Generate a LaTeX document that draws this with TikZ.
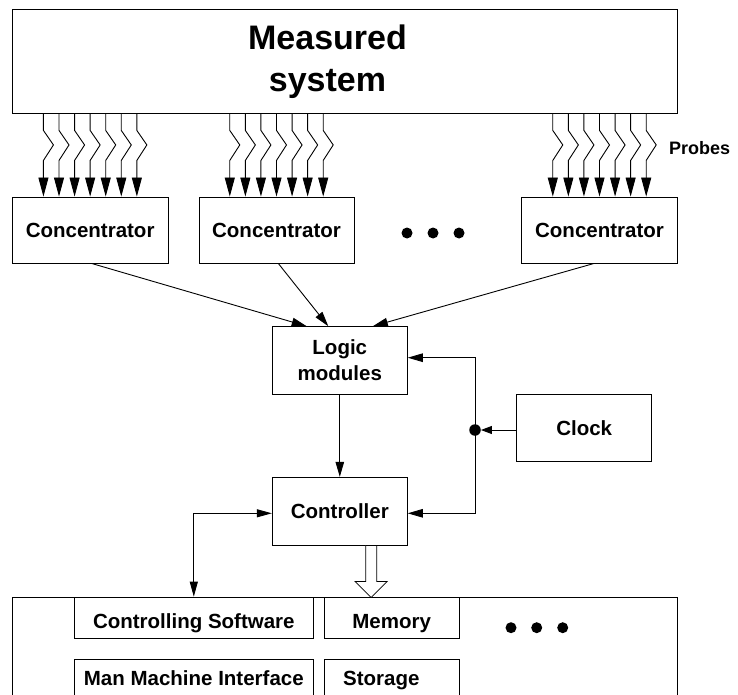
\documentclass[tikz,border=0pt]{standalone}
\usepackage{fontspec}
\setmainfont{Liberation Sans}
\usetikzlibrary{arrows.meta}
\tikzset{
  box/.style={draw, line width=0.9pt, inner sep=0pt, rectangle, font=\fontsize{20.5}{25.8}\selectfont\bfseries},
  arr/.style={line width=0.9pt, -{Triangle[length=15pt,width=8.5pt]}},
  dblarr/.style={line width=0.9pt, {Triangle[length=15pt,width=8pt]}-{Triangle[length=15pt,width=8pt]}},
  clockarr/.style={line width=0.9pt, -{Triangle[length=11pt,width=8pt]}},
  probe/.style={line width=0.9pt, -{Triangle[length=19pt,width=10pt]}},
  bigdot/.style={circle, fill=black, inner sep=0pt, minimum size=11pt},
  widearrow/.style={line width=0.7pt, fill=white},
}
\begin{document}
\begin{tikzpicture}[x=1pt,y=1pt]
\path[use as bounding box] (0,0) rectangle (738,-695);
\clip (0,0) rectangle (738,-695);

% measured system
\node[box, minimum width=665pt, minimum height=103.5pt] (ms) at (344.5,-61.25) {};
\node[font=\fontsize{34}{42.4}\selectfont\bfseries, align=center, inner sep=0pt] (mst) at (327.5,-61.9) {Measured\\system};

% concentrators
\node[box, minimum width=155.7pt, minimum height=66pt] (c1) at (90.15,-230) {Concentrator};
\node[box, minimum width=155pt, minimum height=66pt] (c2) at (276.5,-230) {Concentrator};
\node[box, minimum width=155.6pt, minimum height=66pt] (c3) at (599.5,-230) {Concentrator};
\node[bigdot] (e1) at (407,-233) {};
\node[bigdot] (e2) at (433,-233) {};
\node[bigdot] (e3) at (459,-233) {};

\node[font=\fontsize{18}{20}\selectfont\bfseries, anchor=base west, inner sep=0pt] (pr) at (669,-154.5) {Probes};

% probes
\foreach \c in {c1,c2,c3}{
  \foreach \k in {-3,...,3}{
    \draw[probe] (\c.north |- ms.south) ++(\k*15.57,0) -- ++(0,-17) -- ++(10,-14.5) -- ++(-10,-15.5) -- ([xshift=\k*15.57pt]\c.north);
  }
}

% logic, controller, clock
\node[box, align=center, minimum width=135pt, minimum height=67.3pt] (logic) at (339.8,-360.35) {Logic\\modules};
\node[box, minimum width=135pt, minimum height=67.7pt] (ctrl) at (339.8,-511.15) {Controller};
\node[box, minimum width=135pt, minimum height=67.7pt] (clock) at (584.2,-427.85) {Clock};
\node[bigdot, minimum size=11.5pt] (jn) at (475,-430) {};

\draw[arr] ([xshift=1.5pt]c1.south) -- ([xshift=-33.1pt]logic.north);
\draw[arr] ([xshift=1.8pt]c2.south) -- ([xshift=-11.5pt]logic.north);
\draw[arr] ([xshift=-5.5pt]c3.south) -- ([xshift=33pt]logic.north);
\draw[arr] (logic.south) -- (ctrl.north);
\draw[clockarr] (clock.west |- jn) -- (jn);
\draw[arr] (jn.center) |- ([yshift=2.65pt]logic.east);
\draw[arr] (jn.center) |- ([yshift=-2.15pt]ctrl.east);

% bottom system
\node[box, anchor=north west, minimum width=665pt, minimum height=110pt] (sys) at (12.3,-596.7) {};
\node[box, anchor=north, minimum width=239pt, text height=31.6pt, text depth=9.4pt] (cs) at (193.8,-596.7) {Controlling Software};
\node[box, anchor=north, minimum width=135.3pt, text height=31.6pt, text depth=9.4pt] (mem) at (391.65,-596.7) {Memory};
\node[box, anchor=north, minimum width=239pt, text height=25.7pt, text depth=40pt] (mmi) at (193.8,-659.3) {Man Machine Interface};
\node[box, anchor=north, minimum width=135.3pt, text height=25.7pt, text depth=40pt] (sto) at (391.65,-659.3) {Storage\rule{20.7pt}{0pt}};
\node[bigdot] (f1) at (511,-627.7) {};
\node[bigdot] (f2) at (536.7,-627.7) {};
\node[bigdot] (f3) at (562.7,-627.7) {};

\draw[dblarr] ([yshift=-2.15pt]ctrl.west) -| (cs.north);
\draw[widearrow] ([xshift=25.9pt]ctrl.south) -- ++(0,-36) -- ++(-10.7,0) -- ++(16.2,-16) -- ++(16,16) -- ++(-10.5,0) -- ++(0,36) -- cycle;
\end{tikzpicture}
\end{document}
